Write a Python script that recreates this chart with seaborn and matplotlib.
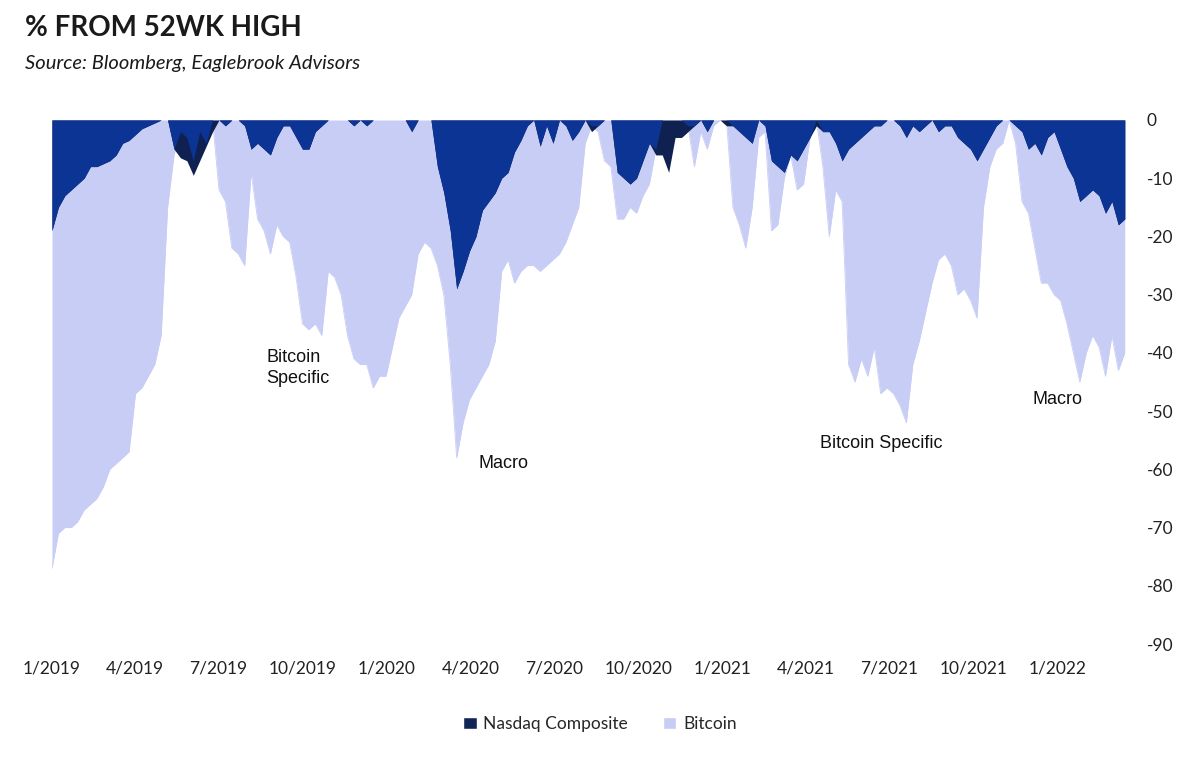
import matplotlib
matplotlib.use("Agg")
import matplotlib.pyplot as plt
from matplotlib.patches import Patch
import numpy as np
import pandas as pd
import seaborn as sns

# weekly readings, % below 52-week high
dates = pd.date_range("2019-01-01", periods=168, freq="7D")

bitcoin = [
    -77, -71, -70, -70, -69, -67, -66, -65, -63, -60,
    -59, -58, -57, -47, -46, -44, -42, -37, -15, -6,
    -2, -3, -7, -2, -4, 0, -12, -14, -22, -23,
    -25, -9, -17, -19, -23, -18, -20, -21, -27, -35,
    -36, -35, -37, -26, -27, -30, -37, -41, -42, -42,
    -46, -44, -44, -39, -34, -32, -30, -23, -21, -22,
    -25, -30, -42, -58, -52, -48, -46, -44, -42, -38,
    -26, -24, -28, -26, -25, -25, -26, -25, -24, -23,
    -21, -18, -15, -4, -1, -2, -7, -8, -17, -17,
    -15, -16, -13, -11, -5, 0, 0, 0, 0, -1,
    -8, -2, -5, -1, 0, 0, -15, -18, -22, -15,
    -3, -2, -19, -18, -10, -6, -12, -11, -3, 0,
    -8, -20, -12, -14, -42, -45, -41, -44, -39, -47,
    -46, -47, -49, -52, -42, -38, -33, -28, -24, -23,
    -25, -30, -29, -31, -34, -15, -8, -5, -4, 0,
    -4, -14, -16, -22, -28, -28, -30, -31, -35, -40,
    -45, -40, -37, -39, -44, -37, -43, -40,
]

nasdaq = [
    -19, -15, -13, -12, -11, -10, -8, -8, -7.5, -7,
    -6, -4, -3.5, -2.5, -1.5, -1, -0.5, 0, 0, -5,
    -6.5, -7, -9.5, -7, -4.5, -2, 0, -1, 0, 0,
    -1, -5, -4, -5, -6, -3, -1, -1, -3, -5,
    -5, -2, -1, 0, 0, 0, 0, -1, 0, -1,
    0, 0, 0, 0, 0, 0, -2, 0, 0, 0,
    -8, -12.5, -19, -29, -26, -22.5, -20, -15.5, -14, -12.5,
    -10, -9, -5.5, -3.5, -1, 0, -4.5, -1, -4, 0,
    -1, -3.5, -2, 0, -2, -1, 0, 0, -9, -10,
    -11, -10, -7, -4, -6, -6, -9, -3, -3, -2,
    -1, 0, -2, 0, 0, -1, -1, -2, -3, -4,
    0, -1, -7, -8, -9, -6, -7, -5, -3, -1,
    -2, -2, -4, -7, -5, -4, -3, -2, -1, -1,
    0, 0, -1, -3, -1, -2, -1, 0, -2, -1,
    -1, -3, -4, -5, -7, -5, -3, -1, 0, 0,
    -1, -2, -5, -4, -6, -3, -2, -5, -8, -10,
    -14, -13, -12, -13, -16, -14, -18, -17,
]

quarter_ticks = pd.date_range("2019-01-01", "2022-01-01", freq="QS")
quarter_labels = [f"{d.month}/{d.year}" for d in quarter_ticks]
y_ticks = list(range(0, -100, -10))

df = pd.DataFrame({"date": dates, "Bitcoin": bitcoin, "Nasdaq Composite": nasdaq})

LAVENDER = "#c8cdf5"
BLUE = "#0c3494"
NAVY = "#0f2150"

sns.set_theme(style="white")
plt.rcParams["font.family"] = ["Lato", "DejaVu Sans"]
plt.rcParams["axes.unicode_minus"] = False

fig = plt.figure(figsize=(12, 7.59), dpi=100)
ax = fig.add_axes([0.0433, 0.1515, 0.894, 0.6904])

# outline first so the fills cover it where Nasdaq sits deeper
sns.lineplot(data=df, x="date", y="Bitcoin", ax=ax, color=LAVENDER, linewidth=0.6, zorder=1)
ax.fill_between(df["date"], df["Bitcoin"], 0, color=LAVENDER, linewidth=0, zorder=2)
ax.fill_between(df["date"], df["Nasdaq Composite"], 0, color=NAVY, linewidth=0, zorder=3)
overlap = np.maximum(df["Bitcoin"], df["Nasdaq Composite"])
ax.fill_between(df["date"], overlap, 0, color=BLUE, linewidth=0, zorder=4)

ax.set_xlim(dates[0], dates[-1])
ax.set_ylim(-90, 0)
ax.set_xticks(quarter_ticks)
ax.set_xticklabels(quarter_labels)
ax.set_yticks(y_ticks)
ax.yaxis.tick_right()
ax.tick_params(axis="x", length=0, pad=12, labelsize=12.5, colors="#222222")
ax.tick_params(axis="y", length=0, pad=16, labelsize=12.5, colors="#222222")
ax.set_xlabel("")
ax.set_ylabel("")
for s in ax.spines.values():
    s.set_visible(False)

fig.text(25 / 1200, 1 - 28 / 759, "% FROM 52WK HIGH", fontsize=20, fontweight="bold",
         color="#1a1a1a", va="center", ha="left")
fig.text(25 / 1200, 1 - 63 / 759, "Source: Bloomberg, Eaglebrook Advisors", fontsize=14.5,
         style="italic", color="#1a1a1a", va="center", ha="left")

ann = dict(fontsize=13, color="#111111", family=["Liberation Sans", "DejaVu Sans"])
fig.text(266 / 1200, 1 - 368 / 759, "Bitcoin\nSpecific", va="center", ha="left",
         linespacing=1.3, **ann)
fig.text(478 / 1200, 1 - 463 / 759, "Macro", va="center", ha="left", **ann)
fig.text(820 / 1200, 1 - 443 / 759, "Bitcoin Specific", va="center", ha="left", **ann)
fig.text(1032 / 1200, 1 - 399 / 759, "Macro", va="center", ha="left", **ann)

handles = [Patch(facecolor="#122656", label="Nasdaq Composite"),
           Patch(facecolor=LAVENDER, label="Bitcoin")]
fig.legend(handles=handles, loc="center", bbox_to_anchor=(0.5, 1 - 724 / 759), ncol=2,
           frameon=False, fontsize=12.5, handlelength=0.75, handleheight=0.75,
           handletextpad=0.4, columnspacing=2.0)

fig.savefig("out.png", dpi=100)
